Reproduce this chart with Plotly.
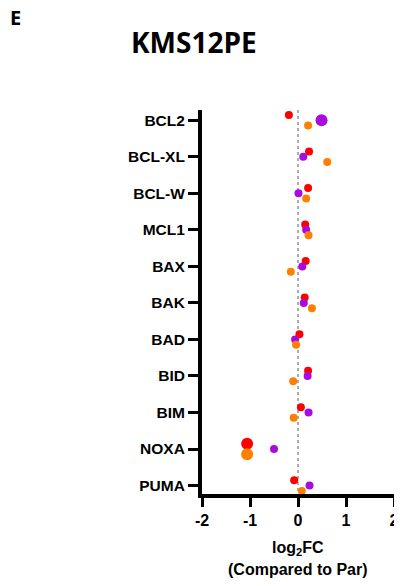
import plotly.graph_objects as go

genes = ["BCL2", "BCL-XL", "BCL-W", "MCL1", "BAX", "BAK", "BAD", "BID", "BIM", "NOXA", "PUMA"]

red_fc =    [-0.19, 0.23, 0.21, 0.15, 0.16, 0.14, 0.03, 0.21, 0.06, -1.06, -0.08]
purple_fc = [0.49, 0.11, 0.01, 0.17, 0.09, 0.12, -0.06, 0.20, 0.22, -0.50, 0.24]
orange_fc = [0.21, 0.61, 0.17, 0.22, -0.15, 0.29, -0.04, -0.10, -0.09, -1.06, 0.08]

red_size =    [8, 8, 8, 8, 8, 8, 8, 8, 8, 12, 8]
purple_size = [12, 8, 8, 8, 8, 8, 8, 8, 8, 8, 8]
orange_size = [8, 8, 8, 8, 8, 8, 8, 8, 8, 12, 8]

series = [
    ("Red", red_fc, red_size, "#FF0000", -0.145),
    ("Purple", purple_fc, purple_size, "#A90BDF", 0.0),
    ("Orange", orange_fc, orange_size, "#FF8000", 0.145),
]

fig = go.Figure()
idx = list(range(len(genes)))

fig.add_shape(type="line", x0=0, x1=0, y0=-0.28, y1=10.23, xref="x", yref="y",
              line=dict(color="#777777", width=1.2, dash="dot"), layer="below")

for name, vals, sizes, color, off in series:
    fig.add_trace(go.Scatter(
        x=vals, y=[i + off for i in idx], mode="markers", name=name,
        marker=dict(color=color, size=sizes, opacity=1, line=dict(width=0)),
        showlegend=False,
    ))

# page has an 8px body margin; figure is shifted accordingly
fig.update_layout(
    width=394, height=570,
    margin=dict(l=194, r=8, t=102, b=84),
    plot_bgcolor="white", paper_bgcolor="white",
    font=dict(family="Liberation Sans", color="black"),
)
fig.add_annotation(text="<b>KMS12PE</b>", xref="paper", yref="paper",
                   x=-0.04, y=1.176, xanchor="center", yanchor="middle", showarrow=False,
                   font=dict(family="Open Sans", size=28, color="black"))
fig.add_annotation(text="<b>E</b>", xref="paper", yref="paper", x=-1.0104, y=1.24,
                   xanchor="left", yanchor="middle", showarrow=False,
                   font=dict(family="Open Sans", size=20, color="black"))
fig.add_annotation(text="<b>log<sub>2</sub>FC</b>", xref="paper", yref="paper",
                   x=0.5, y=-0.142, xanchor="center", yanchor="middle", showarrow=False,
                   font=dict(family="Liberation Sans", size=16, color="black"))
fig.add_annotation(text="<b>(Compared to Par)</b>", xref="paper", yref="paper",
                   x=0.5, y=-0.197, xanchor="center", yanchor="middle", showarrow=False,
                   font=dict(family="Liberation Sans", size=16, color="black"))

fig.update_xaxes(
    range=[-2, 2], tickvals=[-2, -1, 0, 1, 2], ticktext=["<b>-2</b>", "<b>-1</b>", "<b>0</b>", "<b>1</b>", "<b>2</b>"],
    showgrid=False, zeroline=False, showline=True, linecolor="black", linewidth=4,
    ticks="outside", ticklen=9, tickwidth=3, tickcolor="black", automargin=False,
    tickfont=dict(size=16, family="Liberation Sans"),
)
fig.update_yaxes(
    range=[10.23, -0.28], tickvals=idx, ticktext=["<b>%s</b>" % g for g in genes],
    showgrid=False, zeroline=False, showline=True, linecolor="black", linewidth=4,
    ticks="outside", ticklen=10, tickwidth=3, tickcolor="black", automargin=False,
    tickfont=dict(size=15.5, family="Liberation Sans"),
)

fig.write_html("out.html")
